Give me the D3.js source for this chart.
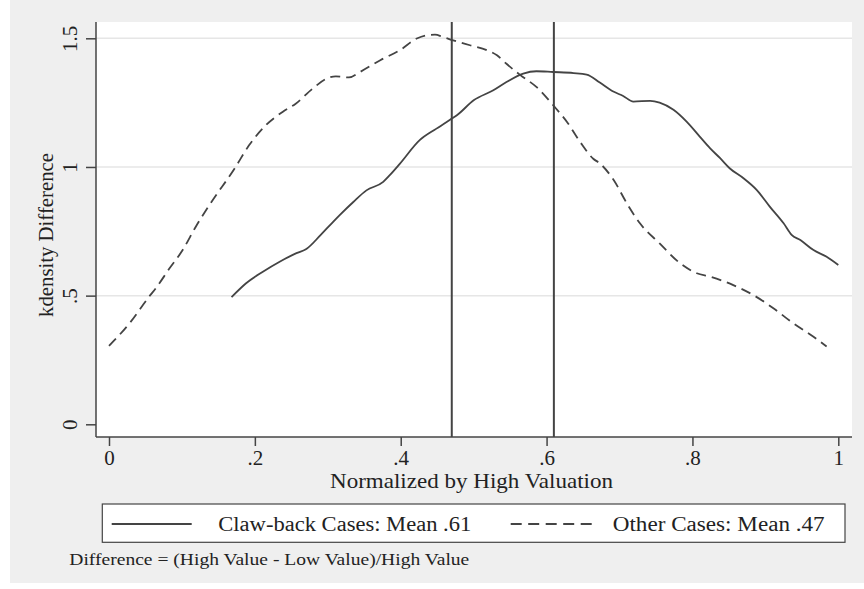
<!DOCTYPE html>
<html>
<head>
<meta charset="utf-8">
<script src="https://cdn.jsdelivr.net/npm/d3@7"></script>
<style>
  html, body { margin: 0; padding: 0; background: #ffffff; }
  text { font-family: "Liberation Serif", "DejaVu Serif", serif; fill: #222; }
</style>
</head>
<body>
<svg id="chart" width="864" height="589"></svg>
<script>
// ---- data ----
const clawX = [0.168,0.188,0.211,0.234,0.257,0.270,0.290,0.307,0.317,0.335,0.353,0.376,0.385,0.399,0.426,0.449,0.470,0.477,0.500,0.527,0.545,0.568,0.586,0.609,0.637,0.655,0.673,0.6915,0.705,0.719,0.742,0.755,0.774,0.792,0.810,0.824,0.838,0.851,0.870,0.888,0.906,0.925,0.936,0.948,0.966,0.984,1.000];
const clawY = [0.494,0.548,0.593,0.632,0.665,0.680,0.735,0.786,0.815,0.864,0.909,0.942,0.968,1.013,1.104,1.149,1.188,1.201,1.259,1.298,1.330,1.363,1.372,1.369,1.365,1.359,1.328,1.293,1.276,1.254,1.257,1.250,1.222,1.176,1.118,1.073,1.034,0.995,0.956,0.911,0.846,0.781,0.736,0.716,0.677,0.651,0.619];
const otherX = [0.000,0.028,0.055,0.064,0.083,0.101,0.119,0.140,0.172,0.192,0.215,0.238,0.256,0.279,0.298,0.311,0.329,0.344,0.372,0.399,0.422,0.436,0.447,0.458,0.472,0.495,0.518,0.532,0.545,0.564,0.586,0.609,0.628,0.646,0.664,0.673,0.692,0.710,0.728,0.755,0.783,0.806,0.824,0.856,0.883,0.911,0.938,0.966,0.984];
const otherY = [0.305,0.392,0.496,0.528,0.606,0.677,0.768,0.862,0.993,1.084,1.162,1.214,1.246,1.304,1.343,1.352,1.348,1.369,1.415,1.454,1.499,1.512,1.514,1.505,1.492,1.473,1.454,1.434,1.401,1.357,1.311,1.240,1.175,1.097,1.032,1.014,0.949,0.859,0.781,0.703,0.626,0.587,0.574,0.541,0.503,0.451,0.393,0.340,0.302];
const meanValues = [0.47, 0.61];
const xTickValues = [0, 0.2, 0.4, 0.6, 0.8, 1];
const xTickLabels = ["0", ".2", ".4", ".6", ".8", "1"];
const yTickValues = [0, 0.5, 1, 1.5];
const yTickLabels = ["0", ".5", "1", "1.5"];
const legendLabels = ["Claw-back Cases: Mean .61", "Other Cases: Mean .47"];
const xTitle = "Normalized by High Valuation";
const yTitle = "kdensity Difference";
const noteText = "Difference = (High Value - Low Value)/High Value";

// ---- layout ----
const svg = d3.select("#chart");
const plot = {left: 96, right: 852, top: 22, bottom: 437};
const x = d3.scaleLinear().domain([0, 1]).range([109, 838.3]);
const y = d3.scaleLinear().domain([0, 1.5]).range([424.3, 38.3]);
const ink = "#444";
const dash = "10,6";

// backgrounds
svg.append("rect").attr("x", 10).attr("y", 0).attr("width", 854).attr("height", 583).attr("fill", "#efefef");
svg.append("rect").attr("x", plot.left).attr("y", plot.top)
   .attr("width", plot.right - plot.left).attr("height", plot.bottom - plot.top).attr("fill", "#ffffff");

// gridlines
svg.append("g").selectAll("line").data(yTickValues.filter(v => v > 0)).join("line")
  .attr("x1", plot.left).attr("x2", plot.right)
  .attr("y1", d => y(d)).attr("y2", d => y(d))
  .attr("stroke", "#e6e6e6").attr("stroke-width", 1.5);

// axes
const xAxis = d3.axisBottom(x).tickValues(xTickValues)
  .tickFormat((d, i) => xTickLabels[i]).tickSize(9).tickPadding(8);
const gx = svg.append("g").attr("transform", `translate(0,${plot.bottom})`).call(xAxis);
gx.select(".domain").remove();
gx.append("line").attr("x1", plot.left).attr("x2", plot.right).attr("y1", 0).attr("y2", 0)
  .attr("stroke", ink).attr("stroke-width", 1.5);
gx.selectAll(".tick line").attr("stroke", ink).attr("stroke-width", 1.5);
gx.selectAll(".tick text").attr("font-size", 21).attr("fill", "#222")
  .attr("font-family", "Liberation Serif").attr("dy", null).attr("y", 27.5);

const yAxis = d3.axisLeft(y).tickValues(yTickValues)
  .tickFormat((d, i) => yTickLabels[i]).tickSize(10);
const gy = svg.append("g").attr("transform", `translate(${plot.left},0)`).call(yAxis);
gy.select(".domain").remove();
gy.append("line").attr("x1", 0).attr("x2", 0).attr("y1", plot.top).attr("y2", plot.bottom)
  .attr("stroke", ink).attr("stroke-width", 1.5);
gy.selectAll(".tick line").attr("stroke", ink).attr("stroke-width", 1.5);
gy.selectAll(".tick text")
  .attr("font-size", 21).attr("fill", "#222").attr("font-family", "Liberation Serif")
  .attr("x", null).attr("dy", null)
  .attr("text-anchor", "middle")
  .attr("transform", "translate(-19,0) rotate(-90)");

// mean lines
svg.append("g").selectAll("line").data(meanValues).join("line")
  .attr("x1", d => x(d)).attr("x2", d => x(d))
  .attr("y1", plot.top).attr("y2", plot.bottom)
  .attr("stroke", ink).attr("stroke-width", 2);

// curves
const line = d3.line().x(d => x(d[0])).y(d => y(d[1])).curve(d3.curveMonotoneX);
const clawData = clawX.map((v, i) => [v, clawY[i]]);
const otherData = otherX.map((v, i) => [v, otherY[i]]);
svg.append("path").datum(otherData).attr("d", line)
  .attr("fill", "none").attr("stroke", ink).attr("stroke-width", 1.8).attr("stroke-dasharray", dash);
svg.append("path").datum(clawData).attr("d", line)
  .attr("fill", "none").attr("stroke", ink).attr("stroke-width", 1.8);

// titles
svg.append("text").attr("x", 471.5).attr("y", 488).attr("text-anchor", "middle")
  .attr("font-size", 21.5).attr("textLength", 283).attr("lengthAdjust", "spacingAndGlyphs").text(xTitle);
svg.append("text").attr("transform", "translate(53,235) rotate(-90)").attr("text-anchor", "middle")
  .attr("font-size", 21.5).attr("textLength", 164).attr("lengthAdjust", "spacingAndGlyphs").text(yTitle);

// legend
const lg = svg.append("g");
lg.append("rect").attr("x", 102.3).attr("y", 504).attr("width", 742.7).attr("height", 38.3)
  .attr("fill", "#ffffff").attr("stroke", ink).attr("stroke-width", 1.2);
lg.append("line").attr("x1", 111.7).attr("x2", 191.7).attr("y1", 524).attr("y2", 524)
  .attr("stroke", ink).attr("stroke-width", 1.8);
lg.append("text").attr("x", 218.3).attr("y", 530.7).attr("font-size", 20.5)
  .attr("textLength", 253).attr("lengthAdjust", "spacingAndGlyphs").text(legendLabels[0]);
lg.append("line").attr("x1", 510.7).attr("x2", 591.7).attr("y1", 524).attr("y2", 524)
  .attr("stroke", ink).attr("stroke-width", 1.8).attr("stroke-dasharray", "11,6.5");
lg.append("text").attr("x", 612.7).attr("y", 530.7).attr("font-size", 20.5)
  .attr("textLength", 212).attr("lengthAdjust", "spacingAndGlyphs").text(legendLabels[1]);

// note
svg.append("text").attr("x", 69.3).attr("y", 565).attr("font-size", 17.5)
  .attr("textLength", 400).attr("lengthAdjust", "spacingAndGlyphs").text(noteText);
</script>
</body>
</html>
